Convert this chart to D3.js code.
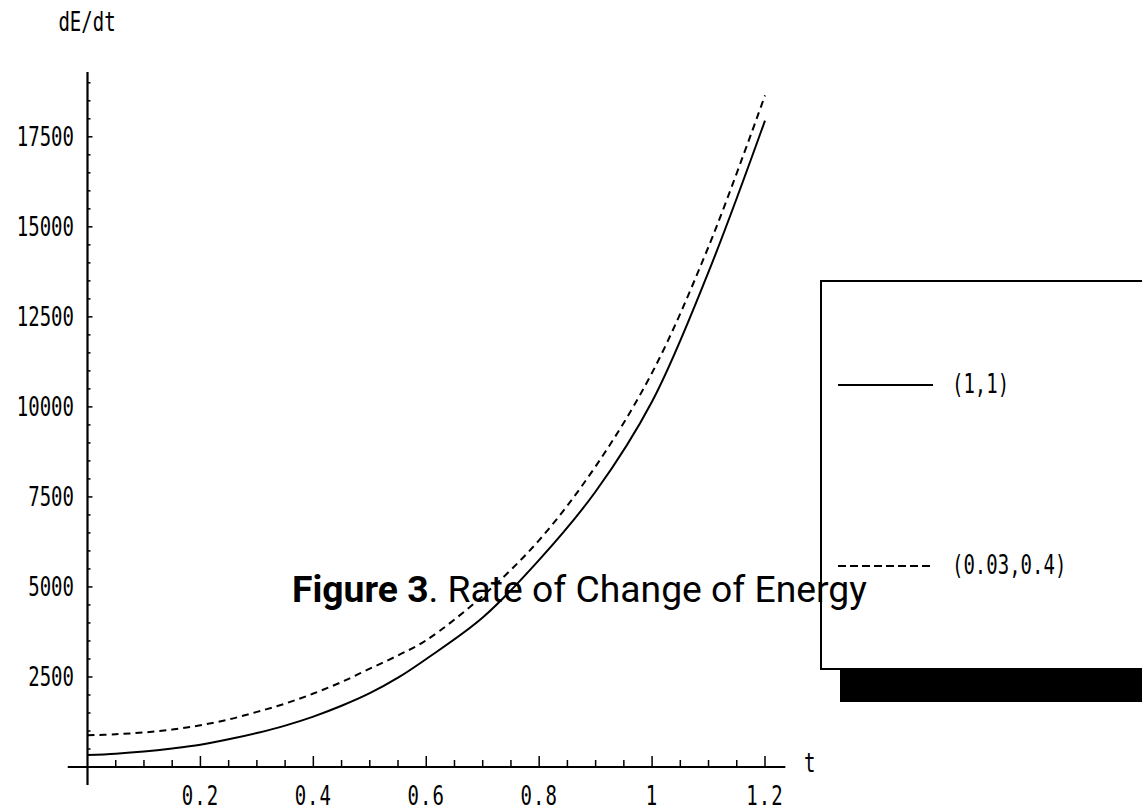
<!DOCTYPE html>
<html>
<head>
<meta charset="utf-8">
<script src="https://cdn.jsdelivr.net/npm/d3@7"></script>
<style>
  html, body { margin: 0; padding: 0; background: #fff; }
  svg { display: block; }
</style>
</head>
<body>
<div class="chart"></div>
<script>
// values
const tValues = [0, 0.05, 0.1, 0.15, 0.2, 0.25, 0.3, 0.35, 0.4, 0.45, 0.5, 0.55, 0.6, 0.7, 0.8, 0.9, 1.0, 1.1, 1.2]
const solidValues = [330, 370, 430, 515, 620, 770, 945, 1150, 1400, 1700, 2050, 2480, 3000, 4150, 5750, 7650, 10150, 13750, 17950]
const dashedValues = [880, 910, 960, 1040, 1160, 1320, 1530, 1760, 2040, 2360, 2730, 3100, 3520, 4750, 6300, 8350, 10950, 14450, 18650]
const seriesNames = ["(1,1)", "(0.03,0.4)"]
const xTicks = [0.2, 0.4, 0.6, 0.8, 1, 1.2]
const yTicks = [2500, 5000, 7500, 10000, 12500, 15000, 17500]

const width = 1142, height = 811
const monoFont = "'DejaVu Sans Mono', 'Liberation Mono', monospace"

const svg = d3.select('.chart')
    .append('svg')
    .attr('width', width)
    .attr('height', height)

const x = d3.scaleLinear().domain([0, 1.2]).range([87.5, 765])
const y = d3.scaleLinear().domain([0, 19300]).range([767, 72])

// stretched monospace text, like the old bitmap font
function monoText(g, str, px, py, anchor) {
    return g.append('text')
        .attr('transform', `translate(${px},${py}) scale(1,1.4)`)
        .attr('text-anchor', anchor || 'start')
        .attr('font-family', monoFont)
        .attr('font-size', 19)
        .attr('fill', '#000')
        .text(str)
}

const axes = svg.append('g')

// x axis line
axes.append('line')
    .attr('x1', x(-0.035)).attr('x2', x(1.236))
    .attr('y1', y(0)).attr('y2', y(0))
    .attr('stroke', '#000').attr('stroke-width', 2.2)

// y axis line
axes.append('line')
    .attr('x1', x(0)).attr('x2', x(0))
    .attr('y1', y(19300)).attr('y2', y(0) + 18)
    .attr('stroke', '#000').attr('stroke-width', 2.2)

// x ticks, minor every 0.05
const xMinor = d3.range(1, 25).map(i => i * 0.05)
axes.selectAll('.xtick')
    .data(xMinor)
    .enter()
    .append('line')
    .attr('x1', d => x(d)).attr('x2', d => x(d))
    .attr('y1', y(0))
    .attr('y2', (d, i) => (i + 1) % 4 === 0 ? y(0) - 11 : y(0) - 7)
    .attr('stroke', '#000').attr('stroke-width', 1.5)

xTicks.forEach(t => {
    monoText(axes, String(t), x(t), 805, 'middle')
        .attr('letter-spacing', 1)
})

// y ticks, minor every 500
const yMinor = d3.range(1, 39).map(i => i * 500)
axes.selectAll('.ytick')
    .data(yMinor)
    .enter()
    .append('line')
    .attr('x1', x(0)).attr('x2', d => d % 2500 === 0 ? x(0) + 5 : x(0) + 3)
    .attr('y1', d => y(d)).attr('y2', d => y(d))
    .attr('stroke', '#000').attr('stroke-width', 1.5)

yTicks.forEach(v => {
    monoText(axes, String(v), 74, y(v) + 9.5, 'end')
})

// axis labels
monoText(axes, 'dE/dt', 87, 31, 'middle')
monoText(axes, 't', 804, 772, 'start')

// curves
const line = d3.line()
    .x(d => x(d[0]))
    .y(d => y(d[1]))
    .curve(d3.curveCatmullRom)

svg.append('path')
    .datum(tValues.map((t, i) => [t, solidValues[i]]))
    .attr('d', line)
    .attr('fill', 'none')
    .attr('stroke', '#000')
    .attr('stroke-width', 2)

svg.append('path')
    .datum(tValues.map((t, i) => [t, dashedValues[i]]))
    .attr('d', line)
    .attr('fill', 'none')
    .attr('stroke', '#000')
    .attr('stroke-width', 2)
    .attr('stroke-dasharray', '7,5')

// legend with drop shadow, cut off at the right edge
const legend = svg.append('g')
legend.append('rect')
    .attr('x', 840).attr('y', 669)
    .attr('width', 340).attr('height', 33)
    .attr('fill', '#000')
legend.append('rect')
    .attr('x', 821).attr('y', 281)
    .attr('width', 360).attr('height', 388)
    .attr('fill', '#fff')
    .attr('stroke', '#000')
    .attr('stroke-width', 2)

const legendRows = [385, 566]
seriesNames.forEach((name, i) => {
    legend.append('line')
        .attr('x1', 838).attr('x2', 933)
        .attr('y1', legendRows[i]).attr('y2', legendRows[i])
        .attr('stroke', '#000')
        .attr('stroke-width', 2)
        .attr('stroke-dasharray', i === 1 ? '8,4' : null)
    monoText(legend, name, 952, legendRows[i] + 8, 'start')
})

// caption laid over the plot
const caption = svg.append('text')
    .attr('x', 292)
    .attr('y', 602)
    .attr('font-family', 'Roboto, "Open Sans", sans-serif')
    .attr('font-size', 38)
    .attr('fill', '#000')
caption.append('tspan').attr('font-weight', 'bold').text('Figure 3')
caption.append('tspan').text('. Rate of Change of Energy')
const capW = caption.node().getComputedTextLength()
caption.attr('font-size', 38 * 575 / capW)
</script>
</body>
</html>
